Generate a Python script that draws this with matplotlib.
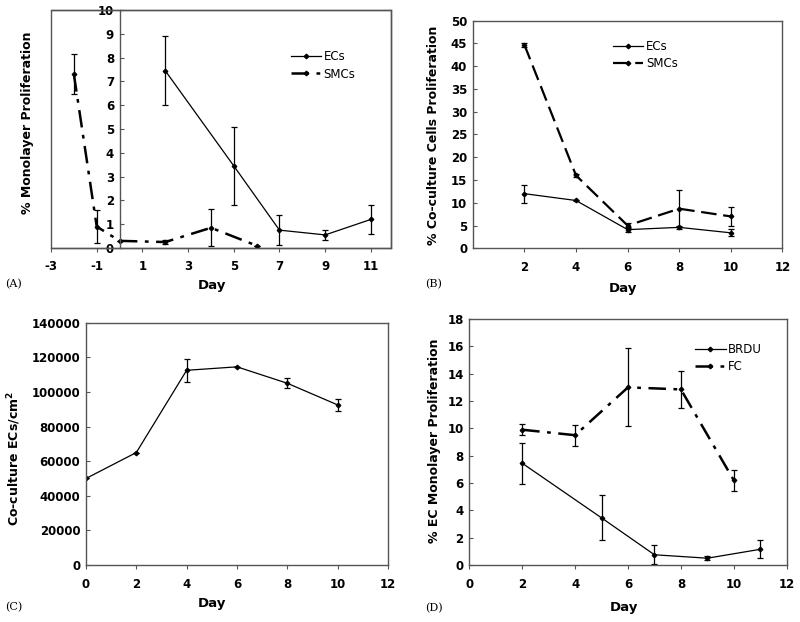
import matplotlib.pyplot as plt
from matplotlib.patches import Rectangle

# Panel A - monolayer proliferation
a_ec_day = [2, 5, 7, 9, 11]
a_ec_val = [7.45, 3.45, 0.75, 0.55, 1.2]
a_ec_err = [1.45, 1.65, 0.62, 0.2, 0.62]
a_smc_day = [-2, -1, 0, 2, 4, 6]
a_smc_val = [7.3, 0.9, 0.3, 0.25, 0.85, 0.1]
a_smc_err = [0.85, 0.7, 0.0, 0.1, 0.78, 0.0]

# Panel B - co-culture proliferation
b_day = [2, 4, 6, 8, 10]
b_ec_val = [12.0, 10.5, 4.1, 4.6, 3.4]
b_ec_err = [2.0, 0.2, 0.6, 0.3, 0.8]
b_smc_val = [44.7, 16.0, 5.0, 8.7, 7.0]
b_smc_err = [0.4, 0.3, 0.6, 4.1, 2.0]

# Panel C - co-culture EC density
c_day = [0, 2, 4, 6, 8, 10]
c_val = [50000, 65000, 112500, 114500, 105000, 92500]
c_err = [0, 0, 6800, 0, 3000, 3500]

# Panel D - EC monolayer proliferation
d_brdu_day = [2, 5, 7, 9, 11]
d_brdu_val = [7.45, 3.45, 0.75, 0.5, 1.15]
d_brdu_err = [1.5, 1.65, 0.68, 0.13, 0.65]
d_fc_day = [2, 4, 6, 8, 10]
d_fc_val = [9.9, 9.5, 13.0, 12.85, 6.2]
d_fc_err = [0.4, 0.78, 2.85, 1.35, 0.75]

SPINE = '#555555'
DASHDOT = (0, (7, 3, 1.5, 3))
DASHED = (0, (7, 3))


def set_ticks(ax, xt, yt):
    ax.set_xticks(xt, labels=[str(t) for t in xt], fontsize=8.5,
                  fontweight='bold')
    ax.set_yticks(yt, labels=[str(t) for t in yt], fontsize=8.5,
                  fontweight='bold')
    for s in ax.spines.values():
        s.set_color(SPINE)
        s.set_linewidth(1.0)
    ax.tick_params(axis='y', direction='in', length=3, color=SPINE, pad=4)
    ax.tick_params(axis='x', direction='out', length=3, color=SPINE, pad=6)


def series(ax, x, y, err, ls, lw, label):
    # error bars first, then the line with its marker (legend shows only that)
    ax.errorbar(x, y, yerr=err, fmt='none', ecolor='black', elinewidth=0.9,
                capsize=2.5, capthick=0.9)
    ax.plot(x, y, color='black', ls=ls, lw=lw, marker='D', markersize=2.3,
            label=label)


def legend(ax, anchor):
    return ax.legend(loc='upper left', bbox_to_anchor=anchor, frameon=False,
                     prop={'size': 8.5, 'weight': 'normal'},
                     handlelength=2.6, handletextpad=0.2, borderpad=0,
                     borderaxespad=0, labelspacing=0.35, numpoints=1)


def labels(ax, ylab, xpos, ypos):
    ax.set_xlabel('Day', fontsize=9.5, fontweight='bold')
    ax.set_ylabel(ylab, fontsize=9, fontweight='bold')
    ax.xaxis.set_label_coords(*xpos)
    ax.yaxis.set_label_coords(*ypos)


fig = plt.figure(figsize=(8, 6.22), dpi=100)

# (A)
ax = fig.add_axes([0.0638, 0.6013, 0.4246, 0.3826])
series(ax, a_ec_day, a_ec_val, a_ec_err, '-', 0.9, 'ECs')
series(ax, a_smc_day, a_smc_val, a_smc_err, DASHDOT, 1.8, 'SMCs')
ax.set_xlim(-3, 11.87)
ax.set_ylim(0, 10)
ax.spines['left'].set_position(('data', 0))
set_ticks(ax, list(range(-3, 12, 2)), list(range(0, 11)))
ax.add_patch(Rectangle((0, 0), 1, 1, transform=ax.transAxes, fill=False,
                       edgecolor=SPINE, lw=1.0, clip_on=False))
labels(ax, '% Monolayer Proliferation', (0.474, -0.13), (-0.05, 0.525))
legend(ax, (0.705, 0.83))

# (B)
ax = fig.add_axes([0.591, 0.6008, 0.387, 0.366])
series(ax, b_day, b_ec_val, b_ec_err, '-', 0.9, 'ECs')
series(ax, b_day, b_smc_val, b_smc_err, DASHED, 1.6, 'SMCs')
ax.set_xlim(0, 12)
ax.set_ylim(0, 50)
set_ticks(ax, list(range(2, 13, 2)), list(range(0, 51, 5)))
labels(ax, '% Co-culture Cells Proliferation', (0.485, -0.15),
       (-0.106, 0.498))
legend(ax, (0.452, 0.915))

# (C)
ax = fig.add_axes([0.1075, 0.0916, 0.3775, 0.3896])
series(ax, c_day, c_val, c_err, '-', 0.9, None)
ax.set_xlim(0, 12)
ax.set_ylim(0, 140000)
set_ticks(ax, list(range(0, 13, 2)), list(range(0, 140001, 20000)))
labels(ax, 'Co-culture ECs/cm$^{\\mathbf{2}}$', (0.417, -0.134),
       (-0.208, 0.44))

# (D)
ax = fig.add_axes([0.5866, 0.0916, 0.3968, 0.3955])
series(ax, d_brdu_day, d_brdu_val, d_brdu_err, '-', 0.9, 'BRDU')
series(ax, d_fc_day, d_fc_val, d_fc_err, DASHDOT, 1.8, 'FC')
ax.set_xlim(0, 12)
ax.set_ylim(0, 18)
set_ticks(ax, list(range(0, 13, 2)), list(range(0, 19, 2)))
labels(ax, '% EC Monolayer Proliferation', (0.486, -0.146),
       (-0.09, 0.504))
legend(ax, (0.711, 0.902))

# panel letters
for txt, x, y in [('(A)', 0.006, 0.538), ('(B)', 0.532, 0.538),
                  ('(C)', 0.006, 0.019), ('(D)', 0.532, 0.017)]:
    fig.text(x, y, txt, fontsize=8, family='DejaVu Serif')

fig.savefig('out.png', dpi=100)
